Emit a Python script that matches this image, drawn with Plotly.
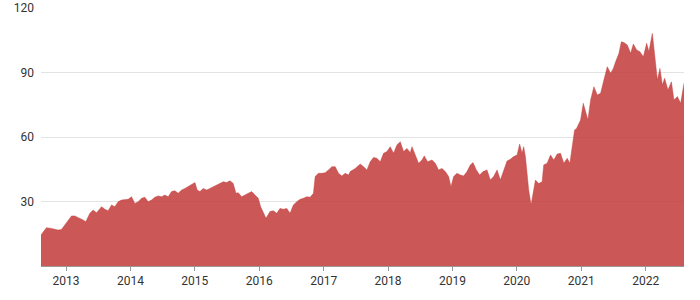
import plotly.graph_objects as go
import pandas as pd

# Decimal-year positions of the samples
decimal_years = [
    2012.611, 2012.669, 2012.695, 2012.773, 2012.876, 2012.928, 2012.980,
    2013.031, 2013.084, 2013.135, 2013.187, 2013.264, 2013.306, 2013.369, 2013.420,
    2013.473, 2013.551, 2013.602, 2013.653, 2013.706, 2013.757, 2013.809, 2013.862,
    2013.913, 2013.964,
    2014.017, 2014.068, 2014.120, 2014.173, 2014.224, 2014.275, 2014.328, 2014.379,
    2014.431, 2014.484, 2014.535, 2014.586, 2014.639, 2014.690, 2014.742, 2014.795,
    2014.846, 2014.897, 2014.950,
    2015.002, 2015.037, 2015.079, 2015.131, 2015.184, 2015.235, 2015.286, 2015.339,
    2015.390, 2015.442, 2015.495, 2015.546, 2015.597, 2015.639, 2015.675, 2015.728,
    2015.779, 2015.830, 2015.883, 2015.935, 2015.986,
    2016.023, 2016.064, 2016.106, 2016.168, 2016.219, 2016.272, 2016.323, 2016.375,
    2016.428, 2016.479, 2016.530, 2016.583, 2016.635, 2016.686, 2016.739, 2016.790,
    2016.841, 2016.868, 2016.919, 2016.972,
    2017.023, 2017.075, 2017.128, 2017.179, 2017.230, 2017.283, 2017.334, 2017.386,
    2017.412, 2017.490, 2017.568, 2017.619, 2017.672, 2017.723, 2017.774, 2017.827,
    2017.879, 2017.930, 2017.983,
    2018.034, 2018.086, 2018.138, 2018.190, 2018.241, 2018.294, 2018.345, 2018.372,
    2018.423, 2018.474, 2018.527, 2018.563, 2018.614, 2018.683, 2018.734, 2018.785,
    2018.838, 2018.890, 2018.941, 2018.978,
    2019.019, 2019.072, 2019.123, 2019.174, 2019.227, 2019.278, 2019.320, 2019.372,
    2019.423, 2019.476, 2019.538, 2019.589, 2019.641, 2019.694, 2019.745, 2019.796,
    2019.849, 2019.900, 2019.952,
    2020.005, 2020.045, 2020.082, 2020.107, 2020.134, 2020.160, 2020.185, 2020.222,
    2020.253, 2020.289, 2020.341, 2020.393, 2020.418, 2020.471, 2020.523, 2020.574,
    2020.627, 2020.678, 2020.729, 2020.782, 2020.823, 2020.860, 2020.896, 2020.927,
    2020.989,
    2021.031, 2021.067, 2021.103, 2021.145, 2021.196, 2021.249, 2021.300, 2021.351,
    2021.404, 2021.456, 2021.498, 2021.533, 2021.585, 2021.622, 2021.663, 2021.715,
    2021.767, 2021.809, 2021.860, 2021.911, 2021.964,
    2022.016, 2022.051, 2022.104, 2022.140, 2022.182, 2022.222, 2022.260, 2022.295,
    2022.347, 2022.400, 2022.440, 2022.493, 2022.544, 2022.596,
]

prices = [
    14.4, 16.7, 17.8, 17.5, 16.7, 17.0, 19.0,
    21.4, 23.3, 23.3, 22.6, 21.4, 20.6, 24.5, 26.0,
    24.8, 27.6, 26.4, 25.7, 28.4, 27.6, 29.9, 30.7,
    31.0, 31.0,
    32.2, 29.1, 29.9, 31.5, 32.0, 29.9, 30.7, 32.0,
    32.6, 32.2, 33.0, 32.2, 34.6, 35.0, 33.8, 35.3,
    36.1, 36.9, 37.7,
    38.8, 35.3, 34.6, 36.1, 35.3, 36.1, 36.9, 37.7,
    38.4, 39.2, 38.8, 39.7, 38.4, 33.8, 34.1, 32.2,
    33.0, 33.8, 34.6, 33.0, 31.5,
    27.6, 24.5, 22.2, 25.3, 25.7, 24.5, 26.8, 26.4,
    26.8, 24.5, 28.4, 29.9, 31.0, 31.5, 32.2, 32.0,
    33.8, 41.6, 43.1, 43.1,
    43.4, 44.7, 46.2, 46.2, 43.1, 41.9, 43.1, 42.3,
    43.9, 45.4, 47.4, 46.2, 44.7, 48.5, 50.5, 50.1,
    48.5, 52.4, 53.2,
    55.5, 52.4, 56.3, 57.8, 53.2, 54.7, 52.7, 55.5,
    51.6, 47.8, 49.3, 51.2, 48.5, 49.3, 47.8, 44.7,
    45.4, 43.9, 41.6, 36.9,
    41.6, 43.1, 42.3, 41.9, 43.9, 47.0, 48.1, 44.7,
    42.3, 43.9, 44.7, 40.0, 41.6, 44.7, 40.0, 44.7,
    48.8, 49.6, 50.9,
    51.6, 56.7, 52.4, 55.5, 50.9, 43.1, 35.3, 28.4,
    34.6, 40.0, 38.4, 39.2, 47.0, 47.8, 51.6, 49.3,
    52.1, 52.4, 47.8, 50.1, 47.8, 55.5, 63.3, 64.0,
    67.9,
    75.7, 71.8, 67.9, 77.2, 83.4, 79.5, 80.3, 86.5,
    92.7, 89.6, 91.9, 95.0, 98.9, 104.3, 103.9, 102.8,
    98.9, 103.3, 100.5, 99.7, 97.3,
    103.6, 99.7, 108.2, 97.3, 86.5, 91.9, 84.2, 87.3,
    81.9, 85.7, 77.2, 78.8, 75.7, 85.0,
]

y_ticks = [30, 60, 90, 120]
x_tick_years = [2013, 2014, 2015, 2016, 2017, 2018, 2019, 2020, 2021, 2022]


def to_date(t):
    year = int(t)
    start = pd.Timestamp(year=year, month=1, day=1)
    end = pd.Timestamp(year=year + 1, month=1, day=1)
    return start + (end - start) * (t - year)


dates = [to_date(t) for t in decimal_years]
x_tick_vals = [pd.Timestamp(year=y, month=1, day=1) for y in x_tick_years]
x_tick_text = [str(y) for y in x_tick_years]

fig = go.Figure(
    go.Scatter(
        x=dates,
        y=prices,
        mode="lines",
        fill="tozeroy",
        line=dict(color="rgba(194,57,56,0.85)", width=0.5),
        fillcolor="rgba(194,57,56,0.85)",
        hoverinfo="x+y",
    )
)

fig.update_layout(
    width=700,
    height=300,
    margin=dict(l=41, r=16, t=8, b=34, autoexpand=False),
    paper_bgcolor="white",
    plot_bgcolor="white",
    showlegend=False,
    font=dict(family="Roboto, sans-serif", size=12, color="#333333"),
)

fig.update_xaxes(
    type="date",
    range=[dates[0], dates[-1]],
    tickvals=x_tick_vals,
    ticktext=x_tick_text,
    ticks="outside",
    ticklen=4,
    tickcolor="#999999",
    showgrid=False,
    showline=True,
    linecolor="#999999",
    linewidth=1,
    layer="below traces",
    zeroline=False,
    automargin=False,
    tickfont=dict(size=12, color="#333333"),
)

fig.update_yaxes(
    range=[0, 120],
    tickvals=y_ticks,
    showgrid=True,
    gridcolor="#e3e3e3",
    gridwidth=1,
    zeroline=False,
    showline=False,
    ticks="",
    automargin=False,
    ticklabelstandoff=6,
    tickfont=dict(size=12, color="#333333"),
)

fig.write_html("out.html")
